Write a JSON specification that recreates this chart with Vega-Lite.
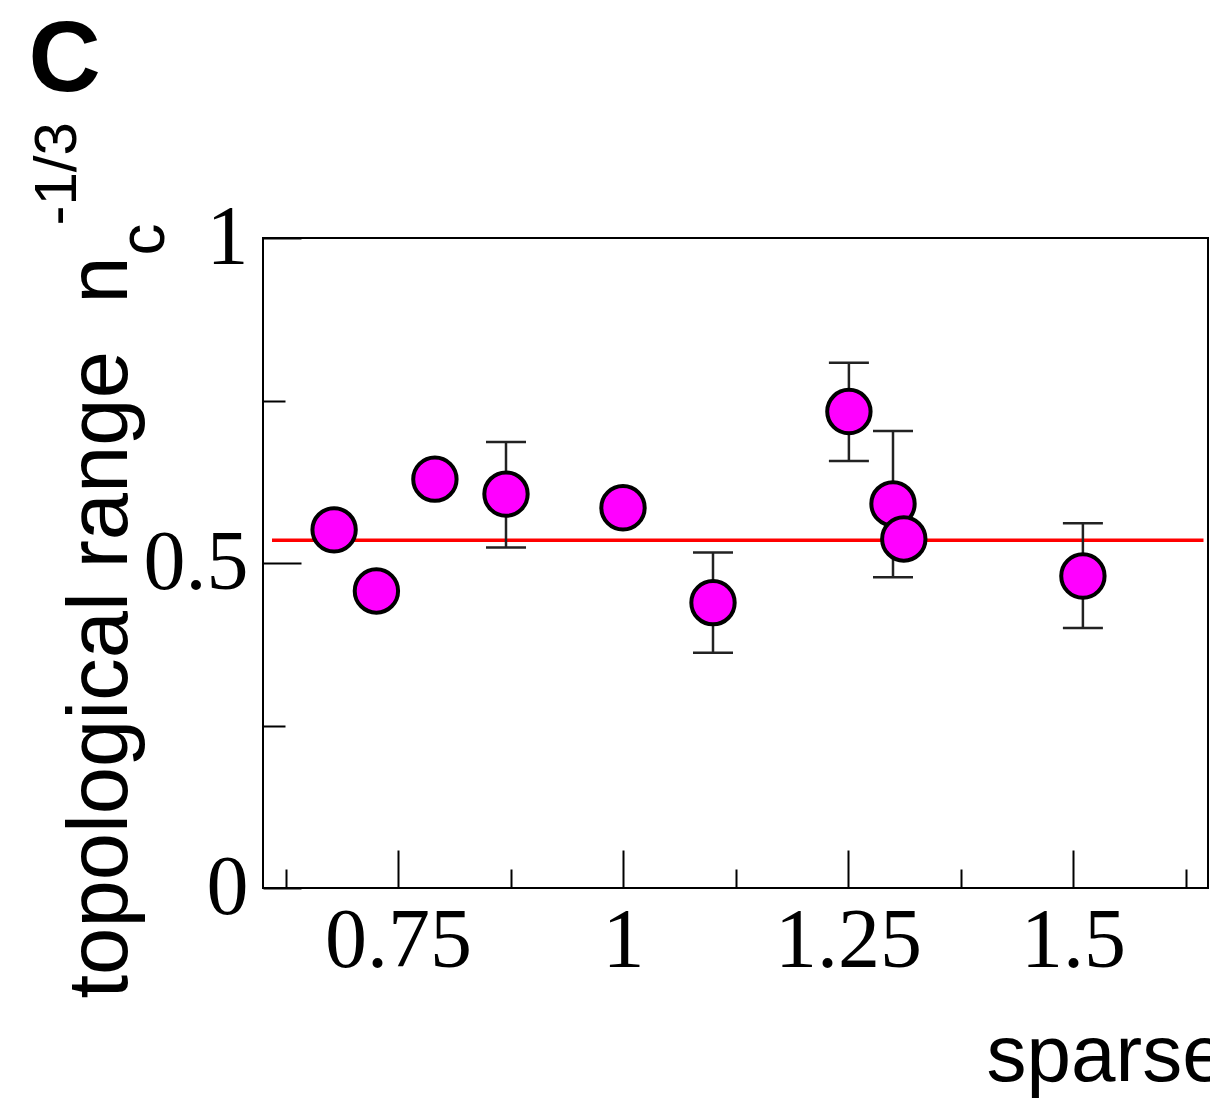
{
  "$schema": "https://vega.github.io/schema/vega-lite/v6.json",
  "width": 945,
  "height": 650,
  "autosize": {"type": "none"},
  "padding": {"left": 263, "top": 238, "right": 2, "bottom": 221},
  "background": "white",
  "config": {
    "view": {"stroke": "#000", "strokeWidth": 2},
    "axis": {"grid": false, "domain": false, "tickColor": "#000", "tickWidth": 2, "labelFont": "Liberation Serif", "labelFontSize": 84, "labelColor": "#000", "titleFont": "Liberation Sans", "titleColor": "#000", "titleFontWeight": "normal"}
  },
  "datasets": {
    "points": [
      {"x": 0.679, "y": 0.551, "lo": null, "hi": null},
      {"x": 0.726, "y": 0.457, "lo": null, "hi": null},
      {"x": 0.791, "y": 0.629, "lo": null, "hi": null},
      {"x": 0.870, "y": 0.606, "lo": 0.524, "hi": 0.686},
      {"x": 1.000, "y": 0.585, "lo": null, "hi": null},
      {"x": 1.100, "y": 0.439, "lo": 0.362, "hi": 0.516},
      {"x": 1.251, "y": 0.733, "lo": 0.657, "hi": 0.808},
      {"x": 1.300, "y": 0.591, "lo": 0.478, "hi": 0.703},
      {"x": 1.312, "y": 0.537, "lo": null, "hi": null},
      {"x": 1.511, "y": 0.480, "lo": 0.400, "hi": 0.561}
    ],
    "fit": [{"x1": 0.61, "x2": 1.645, "y": 0.535}]
  },
  "layer": [
    {
      "data": {"name": "fit"},
      "mark": {"type": "rule", "color": "#ff0000", "strokeWidth": 3.5},
      "encoding": {
        "x": {"field": "x1", "type": "quantitative", "scale": {"domain": [0.6, 1.65], "nice": false, "zero": false},
          "axis": {"orient": "top", "ticks": false, "labels": false, "title": "-1/3", "titleFontSize": 60, "titleAngle": -90, "titleAlign": "left", "titleBaseline": "alphabetic", "titleX": -188, "titleY": -13}},
        "x2": {"field": "x2"},
        "y": {"field": "y", "type": "quantitative", "scale": {"domain": [0, 1], "nice": false, "zero": false},
          "axis": {"orient": "right", "ticks": false, "labels": false, "title": "c", "titleFontSize": 64, "titleAngle": -90, "titleAlign": "left", "titleBaseline": "alphabetic", "titleX": -1045, "titleY": 17}}
      }
    },
    {
      "data": {"name": "points"},
      "transform": [{"filter": "datum.lo != null"}],
      "mark": {"type": "rule", "color": "#222", "strokeWidth": 2.5},
      "encoding": {
        "x": {"field": "x", "type": "quantitative", "scale": {"domain": [0.6, 1.65], "nice": false, "zero": false},
          "axis": {"orient": "bottom", "values": [0.625, 0.875, 1.125, 1.375, 1.625], "tickSize": -19, "labels": false,
            "title": "C", "titleFontSize": 100, "titleFontWeight": "bold", "titleAngle": 0, "titleAlign": "left", "titleBaseline": "alphabetic", "titleX": -235, "titleY": -798}},
        "y": {"field": "lo", "type": "quantitative", "scale": {"domain": [0, 1], "nice": false, "zero": false},
          "axis": {"orient": "left", "values": [0.25, 0.75], "tickSize": -22, "labels": false, "title": null}},
        "y2": {"field": "hi"}
      }
    },
    {
      "data": {"name": "points"},
      "transform": [{"filter": "datum.lo != null"}],
      "mark": {"type": "tick", "orient": "horizontal", "size": 40, "thickness": 2.5, "color": "#222", "opacity": 1},
      "encoding": {
        "x": {"field": "x", "type": "quantitative", "scale": {"domain": [0.6, 1.65], "nice": false, "zero": false}, "axis": null},
        "y": {"field": "lo", "type": "quantitative", "scale": {"domain": [0, 1], "nice": false, "zero": false}, "axis": null}
      }
    },
    {
      "data": {"name": "points"},
      "transform": [{"filter": "datum.hi != null"}],
      "mark": {"type": "tick", "orient": "horizontal", "size": 40, "thickness": 2.5, "color": "#222", "opacity": 1},
      "encoding": {
        "x": {"field": "x", "type": "quantitative", "scale": {"domain": [0.6, 1.65], "nice": false, "zero": false}, "axis": null},
        "y": {"field": "hi", "type": "quantitative", "scale": {"domain": [0, 1], "nice": false, "zero": false}, "axis": null}
      }
    },
    {
      "data": {"name": "points"},
      "mark": {"type": "point", "shape": "circle", "filled": true, "size": 1880, "fill": "#ff00ff", "stroke": "#000", "strokeWidth": 4, "opacity": 1},
      "encoding": {
        "x": {"field": "x", "type": "quantitative", "scale": {"domain": [0.6, 1.65], "nice": false, "zero": false},
          "axis": {"orient": "bottom", "values": [0.75, 1, 1.25, 1.5], "labelExpr": "format(datum.value, '.2~f')", "tickSize": -38, "labelPadding": 50,
            "title": "sparseness", "titleFontSize": 80, "titleAlign": "left", "titleBaseline": "alphabetic", "titleAngle": 0, "titleX": 723, "titleY": 192}},
        "y": {"field": "y", "type": "quantitative", "scale": {"domain": [0, 1], "nice": false, "zero": false},
          "axis": {"orient": "left", "values": [0, 0.5, 1], "labelExpr": "format(datum.value, '.1~f')", "tickSize": -38, "labelPadding": 53, "labelBaseline": "middle",
            "title": "topological range\u00a0 n", "titleFontSize": 85, "titleAngle": -90, "titleAlign": "left", "titleBaseline": "alphabetic", "titleX": -137, "titleY": 760}}
      }
    }
  ],
  "resolve": {"axis": {"x": "independent", "y": "independent"}}
}
